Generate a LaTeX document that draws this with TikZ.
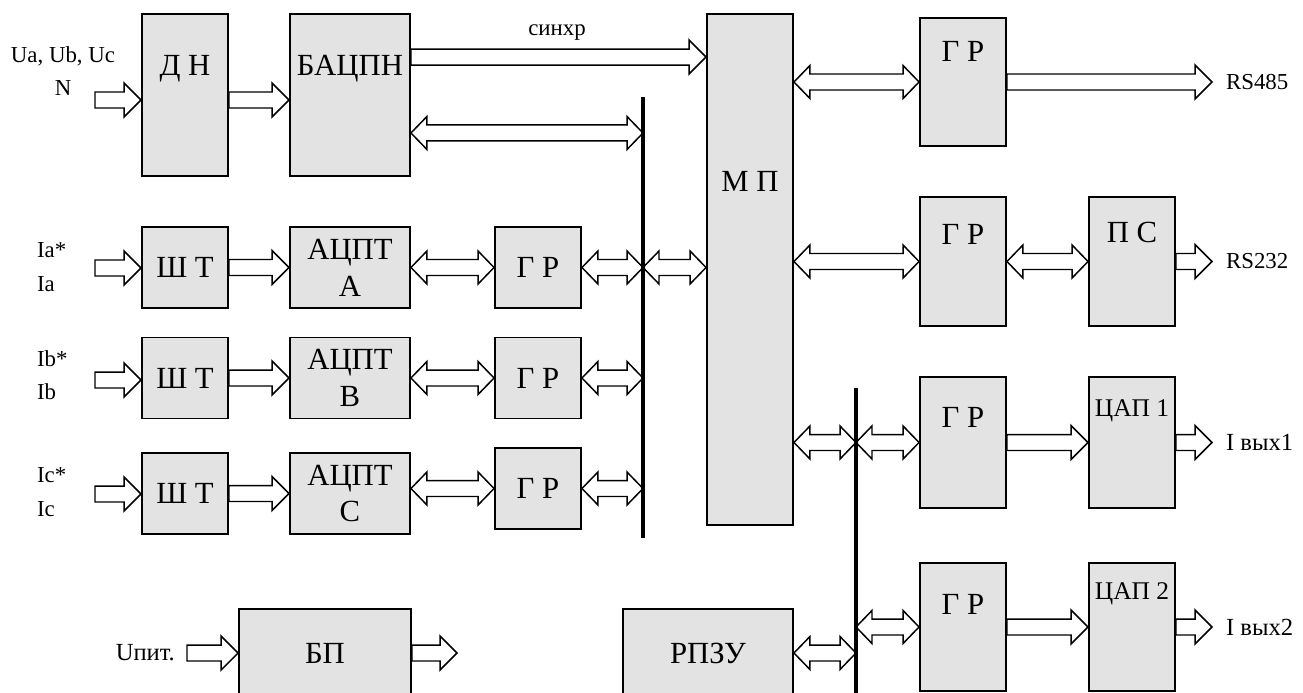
\documentclass[tikz,border=0pt]{standalone}
\usepackage{fontspec}
\setmainfont{Liberation Serif}
\usetikzlibrary{calc}

\definecolor{boxfill}{RGB}{227,227,227}
\tikzset{
	blk/.style={draw, line width=1.1pt, fill=boxfill, inner sep=0pt, align=center, font=\fontsize{17.5}{21}\selectfont},
	toplbl/.style={anchor=center, inner sep=0pt, font=\fontsize{17.5}{21}\selectfont},
	side/.style={inner sep=1pt, font=\fontsize{13}{19}\selectfont},
	bus/.style={line width=2.5pt},
	sarr/.style={draw, line width=0.85pt, to path={let \p1=(\tikztostart), \p2=(\tikztotarget) in
		({\x1},{\y1+0.16cm}) -- ({\x2-0.34cm},{\y1+0.16cm}) -- ({\x2-0.34cm},{\y1+0.34cm}) -- ({\x2},{\y1})
		-- ({\x2-0.34cm},{\y1-0.34cm}) -- ({\x2-0.34cm},{\y1-0.16cm}) -- ({\x1},{\y1-0.16cm}) -- cycle}},
	darr/.style={draw, line width=0.85pt, to path={let \p1=(\tikztostart), \p2=(\tikztotarget) in
		({\x1},{\y1}) -- ({\x1+0.32cm},{\y1+0.33cm}) -- ({\x1+0.32cm},{\y1+0.16cm}) -- ({\x2-0.32cm},{\y1+0.16cm})
		-- ({\x2-0.32cm},{\y1+0.33cm}) -- ({\x2},{\y1}) -- ({\x2-0.32cm},{\y1-0.33cm}) -- ({\x2-0.32cm},{\y1-0.16cm})
		-- ({\x1+0.32cm},{\y1-0.16cm}) -- ({\x1+0.32cm},{\y1-0.33cm}) -- cycle}},
}

\begin{document}
\begin{tikzpicture}[x=0.02cm, y=-0.02cm]
	\useasboundingbox (0,0) rectangle (1303,693);

	\node[blk, minimum width=1.72cm, minimum height=3.24cm, label={[toplbl, yshift=-1.12cm]north:Д Н}] (dn) at (185,95) {};
	\node[blk, minimum width=2.4cm, minimum height=3.24cm, label={[toplbl, yshift=-1.12cm]north:БАЦПН}] (bacpn) at (350,95) {};
	\node[blk, minimum width=1.72cm, minimum height=10.22cm, label={[toplbl, yshift=-3.36cm]north:М П}] (mp) at (750,269.5) {};

	\node[blk, minimum width=1.72cm, minimum height=1.62cm] (shta) at (185,267.5) {Ш Т};
	\node[blk, minimum width=1.72cm, minimum height=1.62cm] (shtb) at (185,378) {Ш Т};
	\node[blk, minimum width=1.72cm, minimum height=1.62cm] (shtc) at (185,493.5) {Ш Т};
	\node[blk, minimum width=2.4cm, minimum height=1.62cm] (adca) at (350,267.5) {АЦПТ\\A};
	\node[blk, minimum width=2.4cm, minimum height=1.62cm] (adcb) at (350,378) {АЦПТ\\B};
	\node[blk, minimum width=2.4cm, minimum height=1.62cm] (adcc) at (350,493.5) {АЦПТ\\C};
	\node[blk, minimum width=1.72cm, minimum height=1.62cm] (gra) at (538,267.5) {Г Р};
	\node[blk, minimum width=1.72cm, minimum height=1.62cm] (grb) at (538,378) {Г Р};
	\node[blk, minimum width=1.72cm, minimum height=1.62cm] (grc) at (538,488.5) {Г Р};

	\node[blk, minimum width=1.72cm, minimum height=2.56cm, label={[toplbl, yshift=-0.68cm]north:Г Р}] (gr1) at (963,82) {};
	\node[blk, minimum width=1.72cm, minimum height=2.58cm, label={[toplbl, yshift=-0.76cm]north:Г Р}] (gr2) at (963,261.5) {};
	\node[blk, minimum width=1.72cm, minimum height=2.58cm, label={[toplbl, yshift=-0.72cm]north:П С}] (ps) at (1132,261.5) {};
	\node[blk, minimum width=1.72cm, minimum height=2.62cm, label={[toplbl, yshift=-0.82cm]north:Г Р}] (gr3) at (963,442.5) {};
	\node[blk, minimum width=1.72cm, minimum height=2.62cm, label={[toplbl, yshift=-0.7cm, font=\fontsize{14.5}{17}\selectfont]north:ЦАП 1}] (dac1) at (1132,442.5) {};
	\node[blk, minimum width=1.72cm, minimum height=2.56cm, label={[toplbl, yshift=-0.84cm]north:Г Р}] (gr4) at (963,627) {};
	\node[blk, minimum width=1.72cm, minimum height=2.56cm, label={[toplbl, yshift=-0.64cm, font=\fontsize{14.5}{17}\selectfont]north:ЦАП 2}] (dac2) at (1132,627) {};

	\node[blk, minimum width=3.44cm, minimum height=1.76cm] (bp) at (325,653) {БП};
	\node[blk, minimum width=3.4cm, minimum height=1.76cm] (rpzu) at (708,653) {РПЗУ};

	\node[side, align=center] (ulbl) at (63,71) {Ua, Ub, Uc\\N};
	\node[side, align=left, anchor=west] (ialbl) at (35,267) {Ia*\\Ia};
	\node[side, align=left, anchor=west] (iblbl) at (35,375) {Ib*\\Ib};
	\node[side, align=left, anchor=west] (iclbl) at (35,492) {Ic*\\Ic};
	\node[side, font=\fontsize{14}{17}\selectfont, anchor=east] (upit) at (177,653) {Uпит.};
	\node[side] (sync) at (557,33) {синхр};
	\node[side, anchor=west] (rs485) at (1224,82) {RS485};
	\node[side, anchor=west] (rs232) at (1224,261.5) {RS232};
	\node[side, font=\fontsize{14}{17}\selectfont, anchor=west] (iout1) at (1224,442.5) {I вых1};
	\node[side, font=\fontsize{14}{17}\selectfont, anchor=west] (iout2) at (1224,627) {I вых2};

	\coordinate (inu) at (95,100);
	\coordinate (ina) at (95,268);
	\coordinate (inb) at (95,380);
	\coordinate (inc) at (95,494);
	\coordinate (o1) at (1212,82);
	\coordinate (o2) at (1212,261.5);
	\coordinate (o3) at (1212,442.5);
	\coordinate (o4) at (1212,627);
	\coordinate (o5) at (457,653);
	\coordinate (b1t) at (643,97);
	\coordinate (b1b) at (643,538);
	\coordinate (b2t) at (856,388);
	\coordinate (b2b) at (856,700);

	\draw[sarr] (inu) to (dn.west);
	\draw[sarr] ([yshift=-0.1cm]dn.east) to (bacpn.west);
	\draw[sarr] ([yshift=0.76cm]bacpn.east) to (mp.west);
	\draw[darr] ([yshift=-0.76cm]bacpn.east) to (b1t);

	\draw[sarr] (ina) to (shta.west);
	\draw[sarr] (shta.east) to (adca.west);
	\draw[darr] (adca.east) to (gra.west);
	\draw[darr] (gra.east) to (b1t);
	\draw[darr] (b1t |- gra) to (mp.west);

	\draw[sarr] (inb) to (shtb.west);
	\draw[sarr] (shtb.east) to (adcb.west);
	\draw[darr] (adcb.east) to (grb.west);
	\draw[darr] (grb.east) to (b1t);

	\draw[sarr] (inc) to (shtc.west);
	\draw[sarr] (shtc.east) to (adcc.west);
	\draw[darr] (grc.west -| adcc.east) to (grc.west);
	\draw[darr] (grc.east) to (b1t);

	\draw[darr] (mp.east |- gr1) to (gr1.west);
	\draw[sarr] (gr1.east) to (o1);
	\draw[darr] (mp.east |- gr2) to (gr2.west);
	\draw[darr] (gr2.east) to (ps.west);
	\draw[sarr] (ps.east) to (o2);
	\draw[darr] (mp.east |- gr3) to (b2t);
	\draw[darr] (b2t |- gr3) to (gr3.west);
	\draw[sarr] (gr3.east) to (dac1.west);
	\draw[sarr] (dac1.east) to (o3);
	\draw[darr] (b2t |- gr4) to (gr4.west);
	\draw[sarr] (gr4.east) to (dac2.west);
	\draw[sarr] (dac2.east) to (o4);
	\draw[darr] (rpzu.east) to (b2t);

	\draw[sarr] ([xshift=0.2cm]upit.east) to (bp.west);
	\draw[sarr] (bp.east) to (o5);

	\draw[bus] (b1t) -- (b1b);
	\draw[bus] (b2t) -- (b2b);
\end{tikzpicture}
\end{document}
